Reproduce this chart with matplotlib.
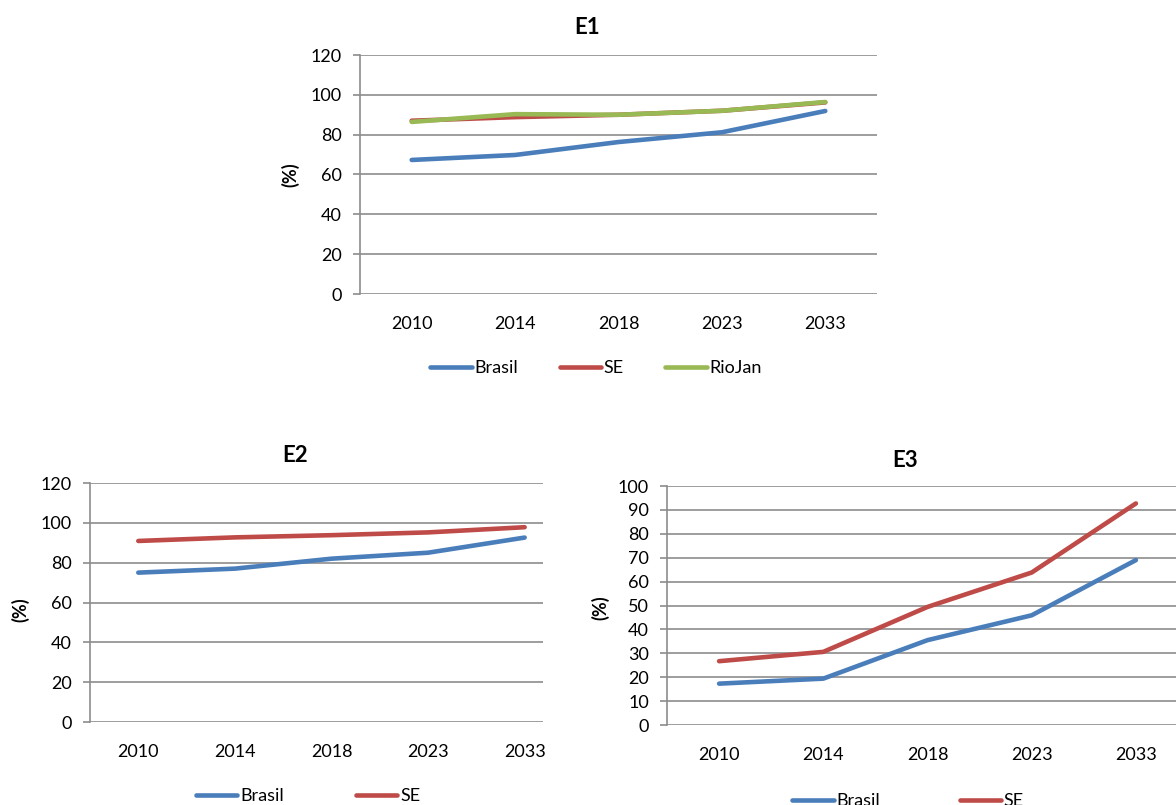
import matplotlib
matplotlib.use('Agg')
import matplotlib.pyplot as plt

plt.rcParams['font.family'] = ['Lato', 'DejaVu Sans']

W, H = 1176, 805

years = ['2010', '2014', '2018', '2023', '2033']

# E1
e1_brasil = [67.3, 69.8, 76.3, 81.2, 91.9]
e1_se = [87.0, 88.8, 90.0, 92.0, 96.2]
e1_riojan = [86.4, 90.3, 90.0, 92.0, 96.4]

# E2
e2_brasil = [75.0, 77.0, 82.0, 85.0, 92.6]
e2_se = [90.9, 92.7, 93.8, 95.2, 97.8]

# E3
e3_brasil = [17.3, 19.4, 35.5, 45.9, 69.0]
e3_se = [26.7, 30.6, 49.4, 63.8, 92.7]

BLUE = '#4a7ebb'
RED = '#be4b48'
GREEN = '#98b954'
GRID = '#8c8c8c'
FS = 13


def px(left, right, top, bottom):
	return [left / W, 1 - bottom / H, (right - left) / W, (bottom - top) / H]


def style_axes(ax, ymax, ystep, xright):
	ax.set_xlim(-0.5, xright)
	ax.set_ylim(0, ymax)
	ax.set_yticks(range(0, ymax + 1, ystep))
	ax.set_xticks(range(len(years)))
	ax.set_xticklabels(years)
	ax.yaxis.grid(True, color=GRID, lw=1.2)
	ax.set_axisbelow(True)
	for s in ['top', 'right', 'bottom']:
		ax.spines[s].set_visible(False)
	ax.spines['left'].set_color(GRID)
	ax.spines['left'].set_linewidth(1.2)
	ax.tick_params(axis='y', length=5, width=1.2, color=GRID, pad=8, labelsize=FS)
	ax.tick_params(axis='x', length=0, pad=16, labelsize=FS)


def legend(handles, labels, x, y, colsp):
	fig.legend(handles, labels, loc='center', bbox_to_anchor=(x / W, 1 - y / H),
		ncol=len(labels), frameon=False, fontsize=FS, handlelength=2.3,
		handletextpad=0.15, columnspacing=colsp)


fig = plt.figure(figsize=(W / 100, H / 100), dpi=100)

# E1
ax1 = fig.add_axes(px(360, 877, 55, 294))
style_axes(ax1, 120, 20, 4.5)
l1, = ax1.plot(range(5), e1_brasil, color=BLUE, lw=3.3, solid_capstyle='round')
l2, = ax1.plot(range(5), e1_se, color=RED, lw=3.3, solid_capstyle='round')
l3, = ax1.plot(range(5), e1_riojan, color=GREEN, lw=3.3, solid_capstyle='round')
fig.text(587 / W, 1 - 27 / H, 'E1', ha='center', va='center', fontsize=16, fontweight='bold')
fig.text(290 / W, 1 - 175 / H, '(%)', ha='center', va='center', rotation=90, fontsize=FS, fontweight='bold')
legend([l1, l2, l3], ['Brasil', 'SE', 'RioJan'], 596, 368, 2.3)

# E2
ax2 = fig.add_axes(px(90, 543, 483, 722))
style_axes(ax2, 120, 20, 4.19)
m1, = ax2.plot(range(5), e2_brasil, color=BLUE, lw=3.3, solid_capstyle='round')
m2, = ax2.plot(range(5), e2_se, color=RED, lw=3.3, solid_capstyle='round')
fig.text(295 / W, 1 - 455 / H, 'E2', ha='center', va='center', fontsize=16, fontweight='bold')
fig.text(20 / W, 1 - 610 / H, '(%)', ha='center', va='center', rotation=90, fontsize=FS, fontweight='bold')
legend([m1, m2], ['Brasil', 'SE'], 308, 796, 4.0)

# E3
ax3 = fig.add_axes(px(667, 1188, 486, 725))
style_axes(ax3, 100, 10, 4.5)
n1, = ax3.plot(range(5), e3_brasil, color=BLUE, lw=3.3, solid_capstyle='round')
n2, = ax3.plot(range(5), e3_se, color=RED, lw=3.3, solid_capstyle='round')
fig.text(905 / W, 1 - 460 / H, 'E3', ha='center', va='center', fontsize=16, fontweight='bold')
fig.text(600 / W, 1 - 608 / H, '(%)', ha='center', va='center', rotation=90, fontsize=FS, fontweight='bold')
legend([n1, n2], ['Brasil', 'SE'], 908, 801, 4.4)

fig.savefig('out.png', dpi=100)
